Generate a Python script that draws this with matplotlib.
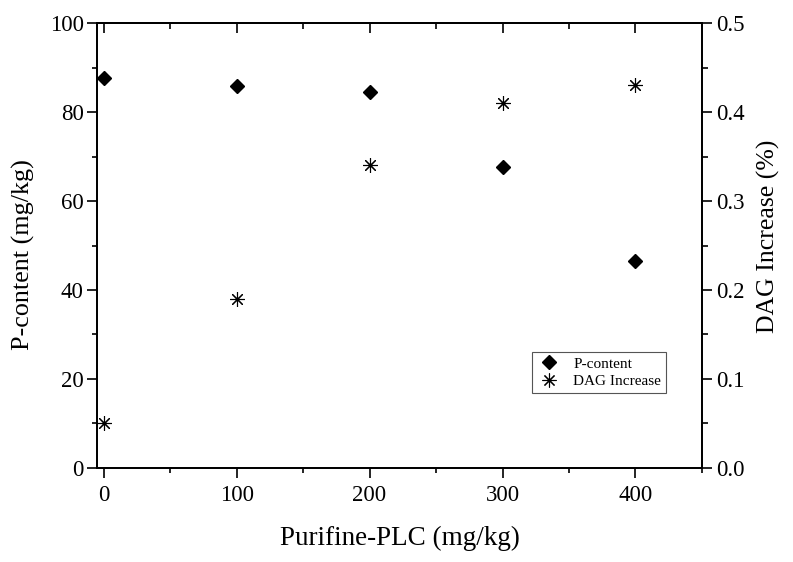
import matplotlib
matplotlib.use("Agg")
import matplotlib.pyplot as plt
from matplotlib.ticker import MultipleLocator

plt.rcParams['font.family'] = ['Liberation Serif', 'DejaVu Serif']

dose = [0, 100, 200, 300, 400]
p_content = [87.6, 85.8, 84.6, 67.6, 46.6]
dag_increase = [0.05, 0.19, 0.34, 0.41, 0.43]

fig = plt.figure(figsize=(7.93, 5.62), dpi=100)
ax = fig.add_axes([0.1223, 0.1673, 0.7629, 0.7917])
ax2 = ax.twinx()

h1, = ax.plot(dose, p_content, linestyle='none', marker='D', markersize=7.5,
              color='black', label='P-content')
h2, = ax2.plot(dose, dag_increase, linestyle='none', marker=(8, 2, 0), markersize=10.5,
               markeredgewidth=0.8, color='black', label='DAG Increase')

ax.set_xlim(-5, 450)
ax.set_ylim(0, 100)
ax2.set_ylim(0, 0.5)

ax.xaxis.set_major_locator(MultipleLocator(100))
ax.xaxis.set_minor_locator(MultipleLocator(50))
ax.yaxis.set_major_locator(MultipleLocator(20))
ax.yaxis.set_minor_locator(MultipleLocator(10))
ax2.yaxis.set_major_locator(MultipleLocator(0.1))
ax2.yaxis.set_minor_locator(MultipleLocator(0.05))
ax2.yaxis.set_major_formatter(plt.FuncFormatter(lambda v, p: f"{v:.1f}"))

for a in (ax, ax2):
    for s in a.spines.values():
        s.set_linewidth(1.3)

ax.tick_params(axis='x', which='both', direction='out', top=False, labelsize=16.5, width=1.2, pad=5)
ax.tick_params(axis='x', which='major', length=7)
ax.tick_params(axis='x', which='minor', length=3.5)
ax.tick_params(axis='y', which='both', direction='out', labelsize=16.5, width=1.2, pad=2)
ax.tick_params(axis='y', which='major', length=7.5)
ax.tick_params(axis='y', which='minor', length=3.5)
ax2.tick_params(axis='y', which='both', direction='out', labelsize=16.5, width=1.2, pad=3)
ax2.tick_params(axis='y', which='major', length=7.5)
ax2.tick_params(axis='y', which='minor', length=4.5)

# top ticks pointing inward
axt = ax.secondary_xaxis('top')
axt.xaxis.set_major_locator(MultipleLocator(100))
axt.xaxis.set_minor_locator(MultipleLocator(50))
axt.tick_params(axis='x', which='both', direction='in', labeltop=False, width=1.2)
axt.tick_params(axis='x', which='major', length=7)
axt.tick_params(axis='x', which='minor', length=4.5)
axt.spines['top'].set_linewidth(1.3)

ax.set_xlabel('Purifine-PLC (mg/kg)', fontsize=19.5, va='center')
ax.xaxis.set_label_coords(0.5, -0.158)
ax.set_ylabel('P-content (mg/kg)', fontsize=18.8, va='center')
ax.yaxis.set_label_coords(-0.121, 0.48)
ax2.set_ylabel('DAG Increase (%)', fontsize=18.5, va='center')
ax2.yaxis.set_label_coords(1.11, 0.52)

leg = ax.legend(handles=[h1, h2], loc='lower left', bbox_to_anchor=(0.719, 0.169),
                fontsize=11, frameon=True, fancybox=False, edgecolor='#555555',
                framealpha=1, handlelength=1.6, borderpad=0.3, labelspacing=0.25,
                handletextpad=0.8, borderaxespad=0)
leg.get_frame().set_linewidth(0.8)
leg.legend_handles[0].set_markersize(7)
leg.legend_handles[1].set_markersize(10)

fig.savefig('out.png', dpi=100)
